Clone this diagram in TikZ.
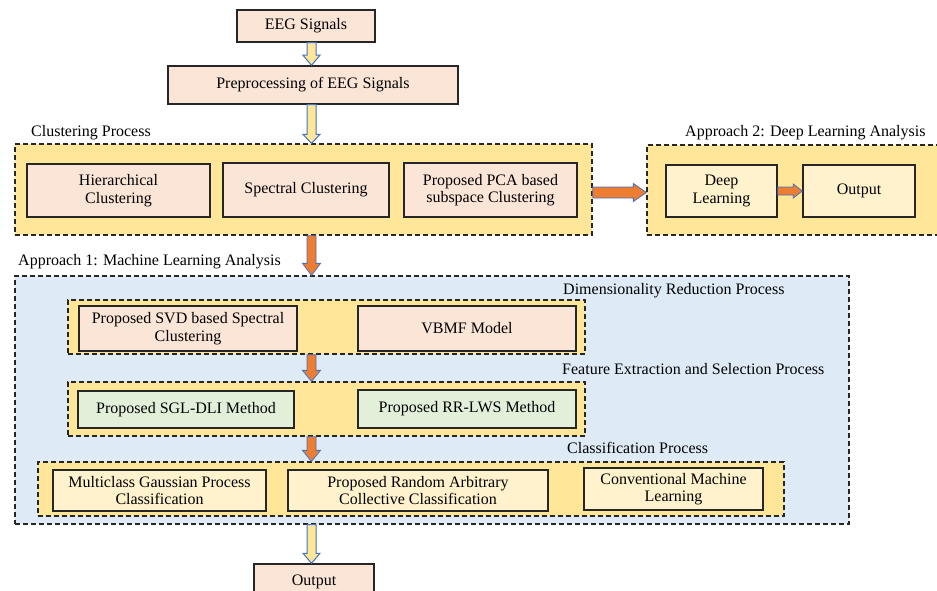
\documentclass[tikz,border=0pt]{standalone}
\usepackage{fontspec}
\setmainfont{Liberation Serif}
\usetikzlibrary{calc}
\definecolor{peach}{HTML}{FBE5D6}
\definecolor{gold}{HTML}{FFE699}
\definecolor{lightyel}{HTML}{FFF2CC}
\definecolor{paleblue}{HTML}{DEEBF7}
\definecolor{palegreen}{HTML}{E2F0D9}
\definecolor{orangearr}{HTML}{ED7D31}
\definecolor{arrblue}{HTML}{4472C4}
\definecolor{boxline}{HTML}{262626}
% vertical block arrow: style, start, end, shaft half, head half, head length
\newcommand{\vblockarrow}[6]{%
  \path[#1] let \p1=(#2), \p2=(#3) in
    (\x1-#4pt,\y1) -- (\x1+#4pt,\y1) -- (\x1+#4pt,\y2+#6pt) -- (\x1+#5pt,\y2+#6pt)
    -- (\x1,\y2) -- (\x1-#5pt,\y2+#6pt) -- (\x1-#4pt,\y2+#6pt) -- cycle;}
% horizontal block arrow
\newcommand{\hblockarrow}[6]{%
  \path[#1] let \p1=(#2), \p2=(#3) in
    (\x1,\y1+#4pt) -- (\x2-#6pt,\y1+#4pt) -- (\x2-#6pt,\y1+#5pt) -- (\x2,\y1)
    -- (\x2-#6pt,\y1-#5pt) -- (\x2-#6pt,\y1-#4pt) -- (\x1,\y1-#4pt) -- cycle;}
\begin{document}
\begin{tikzpicture}[x=1pt,y=-1pt,
  txt/.style={font=\fontsize{16}{17.5}\selectfont, text=black},
  procbox/.style={txt, draw=boxline, line width=1.5pt, rectangle, align=center, inner sep=2pt},
  peachbox/.style={procbox, fill=peach},
  yelbox/.style={procbox, fill=lightyel},
  greenbox/.style={procbox, fill=palegreen},
  container/.style={draw=black!85, line width=1.3pt, dash pattern=on 5pt off 3pt, rectangle, inner sep=0pt},
  goldcont/.style={container, fill=gold},
  bluecont/.style={container, fill=paleblue},
  grouplabel/.style={txt, anchor=base west, inner sep=0pt},
  hollowarr/.style={fill=gold, draw=arrblue, line width=1pt, line join=miter},
  orangearrow/.style={fill=orangearr, draw=arrblue, line width=0.8pt, line join=miter}
]
\clip (0,0) rectangle (937,591);
\useasboundingbox (0,0) rectangle (937,591);
\fill[white] (0,0) rectangle (937,591);

% containers
\node[goldcont, minimum width=577pt, minimum height=91pt] (clus) at (303.5,189.5) {};
\node[goldcont, minimum width=298pt, minimum height=90pt] (deep) at (796,190) {};
\node[bluecont, minimum width=834pt, minimum height=248pt] (ml) at (432,400) {};
\node[goldcont, minimum width=517pt, minimum height=54pt] (dim) at (326.5,327) {};
\node[goldcont, minimum width=517pt, minimum height=54pt] (feat) at (326.5,409) {};
\node[goldcont, minimum width=746pt, minimum height=54pt] (cls) at (411,489) {};

% group labels
\node[grouplabel] (lclus) at (31,137) {Clustering Process};
\node[grouplabel] (ldeep) at (685,137) {Approach 2: Deep Learning Analysis};
\node[grouplabel] (lml) at (18,265) {Approach 1: Machine Learning Analysis};
\node[grouplabel] (ldim) at (563,294) {Dimensionality Reduction Process};
\node[grouplabel] (lfeat) at (562,374) {Feature Extraction and Selection Process};
\node[grouplabel] (lcls) at (567,453) {Classification Process};

% boxes
\node[peachbox, minimum width=138pt, minimum height=32pt] (eeg) at (306,26) {EEG Signals};
\node[peachbox, minimum width=290pt, minimum height=38pt] (pre) at (313,85) {Preprocessing of EEG Signals};

\node[peachbox, minimum width=183pt, minimum height=53pt] (hier) at (118.5,190.5) {Hierarchical\\Clustering};
\node[peachbox, minimum width=166pt, minimum height=54pt] (spec) at (306,190) {Spectral Clustering};
\node[peachbox, minimum width=173pt, minimum height=54pt] (pca) at (490.5,190) {Proposed PCA based\\subspace Clustering};

\node[yelbox, minimum width=111pt, minimum height=52pt] (dl) at (721.5,191) {Deep\\Learning};
\node[yelbox, minimum width=112pt, minimum height=52pt] (out2) at (859,191) {Output};

\node[peachbox, minimum width=218pt, minimum height=45pt] (svd) at (188,328.5) {Proposed SVD based Spectral\\Clustering};
\node[peachbox, minimum width=218pt, minimum height=45pt] (vbmf) at (467,328.5) {VBMF Model};

\node[greenbox, minimum width=216pt, minimum height=37pt] (sgl) at (186,409.5) {Proposed SGL-DLI Method};
\node[greenbox, minimum width=218pt, minimum height=38pt] (rr) at (467,409) {Proposed RR-LWS Method};

\node[yelbox, minimum width=213pt, minimum height=41pt] (mgp) at (159.5,490.5) {Multiclass Gaussian Process\\Classification};
\node[yelbox, minimum width=260pt, minimum height=41pt] (rac) at (418,490.5) {Proposed Random Arbitrary\\Collective Classification};
\node[yelbox, minimum width=179pt, minimum height=42pt] (cml) at (673.5,489) {Conventional Machine\\Learning};

\node[peachbox, minimum width=120pt, minimum height=36pt] (out) at (314,582) {Output};

% connectors
\coordinate (spine) at (311.5,0);
\vblockarrow{hollowarr}{eeg.south -| spine}{pre.north -| spine}{4.5}{8.5}{10}
\vblockarrow{hollowarr}{pre.south -| spine}{clus.north -| spine}{4.5}{8.5}{9}
\vblockarrow{orangearrow}{clus.south -| spine}{ml.north -| spine}{4.5}{9}{12}
\vblockarrow{orangearrow}{dim.south -| spine}{feat.north -| spine}{4.5}{9}{11}
\vblockarrow{orangearrow}{feat.south -| spine}{cls.north -| spine}{4.5}{9}{11}
\vblockarrow{hollowarr}{ml.south -| spine}{out.north -| spine}{4.5}{8.5}{10}
\hblockarrow{orangearrow}{$(clus.east)+(0,3)$}{$(deep.west)+(0,3)$}{5.5}{9}{13}
\hblockarrow{orangearrow}{dl.east}{out2.west}{4}{7}{9}
\end{tikzpicture}
\end{document}
